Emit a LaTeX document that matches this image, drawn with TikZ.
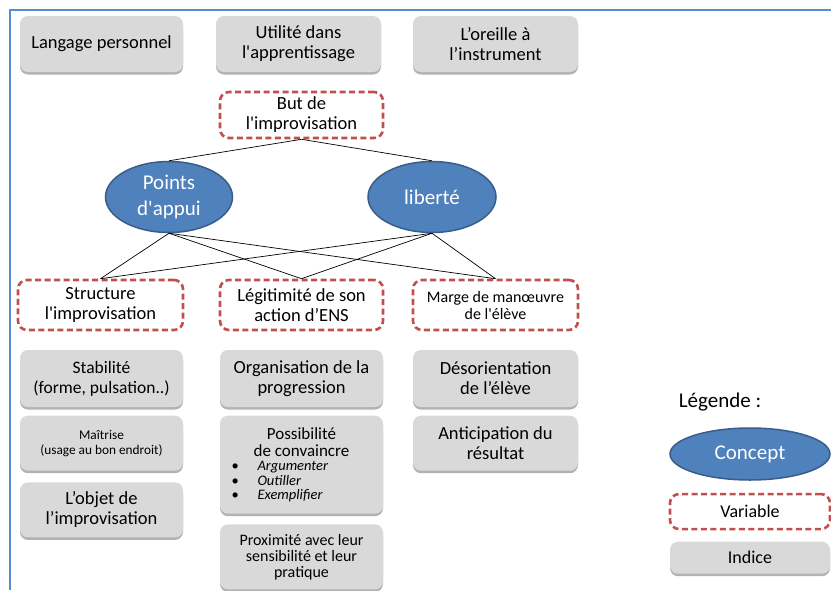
\documentclass[tikz,border=0pt]{standalone}
\usepackage{fontspec}
\newfontfamily\carlito{Carlito}
\usetikzlibrary{positioning,shapes.geometric,shadows}
\definecolor{conceptblue}{RGB}{79,129,189}
\definecolor{conceptedge}{RGB}{56,93,138}
\definecolor{varred}{RGB}{192,80,77}
\definecolor{indicegray}{RGB}{217,217,217}
\definecolor{frameblue}{RGB}{85,142,213}

\begin{document}
\begin{tikzpicture}[x=1pt,y=-1pt,-,line width=0.7pt,
  indice node/.style={rectangle,rounded corners=8pt,fill=indicegray,align=center,inner sep=2pt,
    font=\carlito\fontsize{18.5}{20}\selectfont,
    drop shadow={shadow xshift=0pt,shadow yshift=-2.5pt,opacity=0.3,fill=black}},
  variable node/.style={rectangle,rounded corners=9pt,draw=varred,line width=2.6pt,
    dash pattern=on 6pt off 3.5pt,align=center,inner sep=2pt,font=\carlito\fontsize{18.5}{20}\selectfont},
  concept node/.style={ellipse,fill=conceptblue,draw=conceptedge,line width=1.5pt,text=white,
    align=center,inner sep=0pt,font=\carlito\fontsize{21}{26}\selectfont}]

            \useasboundingbox (0,0) rectangle (831,590);
            \draw[frameblue,line width=1.5pt] (831,10) -- (10,10) -- (10,590);

            % indices du haut
            \node[indice node,minimum width=163pt,minimum height=56pt] (lang) at (101.5,44) {Langage personnel};
            \node[indice node,minimum width=165pt,minimum height=56pt] (util) at (298.5,44) {Utilité dans\\l'apprentissage};
            \node[indice node,minimum width=165pt,minimum height=56pt] (oreille) at (495.5,44) {L’oreille à\\l’instrument};

            % variable et concepts
            \node[variable node,minimum width=163pt,minimum height=46pt] (but) at (301.5,115) {But de\\l'improvisation};
            \node[concept node,minimum width=127pt,minimum height=71pt] (pa) at (169,197) {Points\\d'appui};
            \node[concept node,minimum width=128pt,minimum height=71pt] (lib) at (432,197) {liberté};

            \node[variable node,minimum width=165pt,minimum height=50pt] (str) at (100.5,305) {Structure\\l'improvisation};
            \node[variable node,minimum width=163pt,minimum height=50pt] (legit) at (301.5,305) {Légitimité de son\\action d’ENS};
            \node[variable node,minimum width=165pt,minimum height=50pt,font=\carlito\fontsize{16}{17}\selectfont] (marge) at (495.5,305) {Marge de manœuvre\\de l'élève};

            % indices
            \node[indice node,minimum width=163pt,minimum height=57pt,font=\carlito\fontsize{17.5}{20}\selectfont] (stab) at (101.5,378.5) {Stabilité\\(forme, pulsation..)};
            \node[indice node,minimum width=163pt,minimum height=55pt,font=\carlito\fontsize{13.3}{15}\selectfont] (mait) [below=8pt of stab] {Maîtrise\\(usage au bon endroit)};
            \node[indice node,minimum width=163pt,minimum height=55pt] (obj) [below=11pt of mait] {L’objet de\\l’improvisation};

            \node[indice node,minimum width=163pt,minimum height=57pt] (org) at (301.5,378.5) {Organisation de la\\progression};
            \node[indice node,minimum width=163pt,minimum height=98pt,font=\carlito\fontsize{17}{17}\selectfont] (poss) [below=8pt of org] {Possibilité\\de convaincre\\[-2.5pt]
              \makebox[150pt][l]{\fontsize{14.5}{14.5}\selectfont\hspace{5pt}\makebox[26pt][l]{•}\textit{Argumenter}}\\[-2.5pt]
              \makebox[150pt][l]{\fontsize{14.5}{14.5}\selectfont\hspace{5pt}\makebox[26pt][l]{•}\textit{Outiller}}\\[-2.5pt]
              \makebox[150pt][l]{\fontsize{14.5}{14.5}\selectfont\hspace{5pt}\makebox[26pt][l]{•}\textit{Exemplifier}}};
            \node[indice node,minimum width=163pt,minimum height=65pt,font=\carlito\fontsize{16}{16}\selectfont] (prox) [below=10pt of poss] {Proximité avec leur\\sensibilité et leur\\pratique};

            \node[indice node,minimum width=165pt,minimum height=57pt] (deso) at (495.5,378.5) {Désorientation\\de l’élève};
            \node[indice node,minimum width=165pt,minimum height=55pt] (antic) [below=8pt of deso] {Anticipation du\\résultat};

            % legende
            \node[font=\carlito\fontsize{21}{24}\selectfont] (legende) at (720,402) {Légende :};
            \node[concept node,minimum width=160pt,minimum height=52pt] (concept) at (750,454) {Concept};
            \node[variable node,minimum width=160pt,minimum height=35pt,font=\carlito\fontsize{18}{20}\selectfont] (variable) [below=12pt of concept] {Variable};
            \node[indice node,minimum width=160pt,minimum height=32pt,font=\carlito\fontsize{18}{20}\selectfont] (indice) [below=11pt of variable] {Indice};

            \draw[-] (but.south) to (pa.north);
            \draw[-] (but.south) to (lib.north);
            \draw[-] (pa.south) to (str.north);
            \draw[-] (pa.south) to (legit.north);
            \draw[-] (pa.south) to (marge.north);
            \draw[-] (lib.south) to (str.north);
            \draw[-] (lib.south) to (legit.north);
            \draw[-] (lib.south) to (marge.north);

        \end{tikzpicture}
\end{document}
